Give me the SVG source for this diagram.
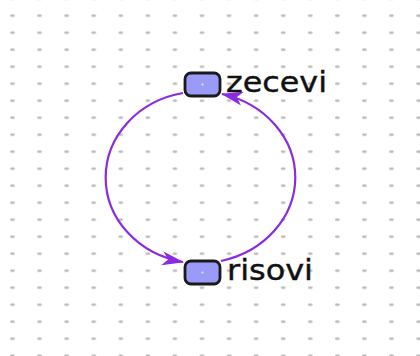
<svg xmlns="http://www.w3.org/2000/svg" width="420" height="356" viewBox="0 0 420 356">
  <defs>
    <pattern id="grid" x="1.5" y="7.2" width="27.07" height="17" patternUnits="userSpaceOnUse">
      <ellipse cx="11" cy="8.5" rx="2.4" ry="1.2" fill="#b8b8b8"/>
    </pattern>
    <marker id="arrow" viewBox="0 0 22 16" refX="21" refY="8" markerWidth="22" markerHeight="16" markerUnits="userSpaceOnUse" orient="auto">
      <path d="M0,1 L22,8 L0,15 L6,8 Z" fill="#8a2be2"/>
    </marker>
  </defs>
  <style>
    .node rect { fill: #9a9af8; stroke: #1a1a1a; stroke-width: 2.8; }
    .node .pin { fill: #f4f0a0; }
    .node text { font-family: "DejaVu Sans", Verdana, sans-serif; font-size: 28px; fill: #111; stroke: #111; stroke-width: 0.4; }
    .edge { fill: none; stroke: #8a2be2; stroke-width: 2.2; marker-end: url(#arrow); }
  </style>
  <rect width="420" height="356" fill="#ffffff"/>
  <rect width="420" height="356" fill="url(#grid)"/>

  <g id="connectors">
    <path class="edge" d="M 183 93 A 95 86 0 0 0 183 262"/>
    <path class="edge" d="M 221 261 A 97 86 0 0 0 222 94"/>
  </g>

  <g id="zecevi" class="node">
    <rect x="185" y="73" width="35" height="23" rx="6"/>
    <circle class="pin" cx="202.5" cy="84.5" r="1"/>
    <text x="226" y="92" textLength="101" lengthAdjust="spacingAndGlyphs">zecevi</text>
  </g>

  <g id="risovi" class="node">
    <rect x="185" y="261" width="35" height="23" rx="6"/>
    <circle class="pin" cx="202.5" cy="272.5" r="1"/>
    <text x="227" y="280" textLength="86" lengthAdjust="spacingAndGlyphs">risovi</text>
  </g>
</svg>
